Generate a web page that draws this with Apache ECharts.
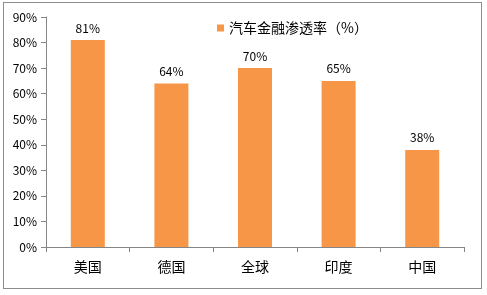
<!DOCTYPE html>
<html><head><meta charset="utf-8">
<script src="https://cdn.jsdelivr.net/npm/echarts@6/dist/echarts.min.js"></script>
<style>html,body{margin:0;padding:0;background:#fff}#c{width:487px;height:295px}
#frame{position:absolute;left:3px;top:2px;width:479px;height:287px;border:1px solid #8c8c8c;box-sizing:border-box;pointer-events:none}</style>
</head><body><div id="c"></div><div id="frame"></div>
<script>
const categories = ['美国','德国','全球','印度','中国'];
const values = [81, 64, 70, 65, 38];
const seriesName = '汽车金融渗透率（%）';
const chart = echarts.init(document.getElementById('c'));
const font = '"Noto Sans CJK SC", sans-serif';
chart.setOption({
  animation: false,
  textStyle: {fontFamily: font},
  legend: {
    data: [seriesName], left: 212, top: 16, icon: 'rect', itemWidth: 7, itemHeight: 7, itemGap: 3,
    textStyle: {fontSize: 14, color: '#000', fontFamily: font}
  },
  grid: {left: 46, right: 23, top: 17, bottom: 48},
  xAxis: {
    type: 'category', data: categories,
    axisLine: {lineStyle: {color: '#868686'}},
    axisTick: {show: true, length: 5, alignWithLabel: false, lineStyle: {color: '#868686'}},
    axisLabel: {fontSize: 14, color: '#000', margin: 13, fontFamily: font}
  },
  yAxis: {
    type: 'value', min: 0, max: 90, interval: 10,
    axisLine: {show: true, lineStyle: {color: '#868686'}},
    axisTick: {show: true, length: 5, lineStyle: {color: '#868686'}},
    splitLine: {show: false},
    axisLabel: {formatter: '{value}%', fontSize: 12, color: '#000', margin: 9, fontFamily: font}
  },
  series: [{
    name: seriesName, type: 'bar', data: values, barWidth: 34,
    itemStyle: {color: '#F79646'},
    label: {show: true, position: 'top', distance: 6, formatter: '{c}%', fontSize: 12, color: '#000', fontFamily: font}
  }]
});
</script></body></html>
